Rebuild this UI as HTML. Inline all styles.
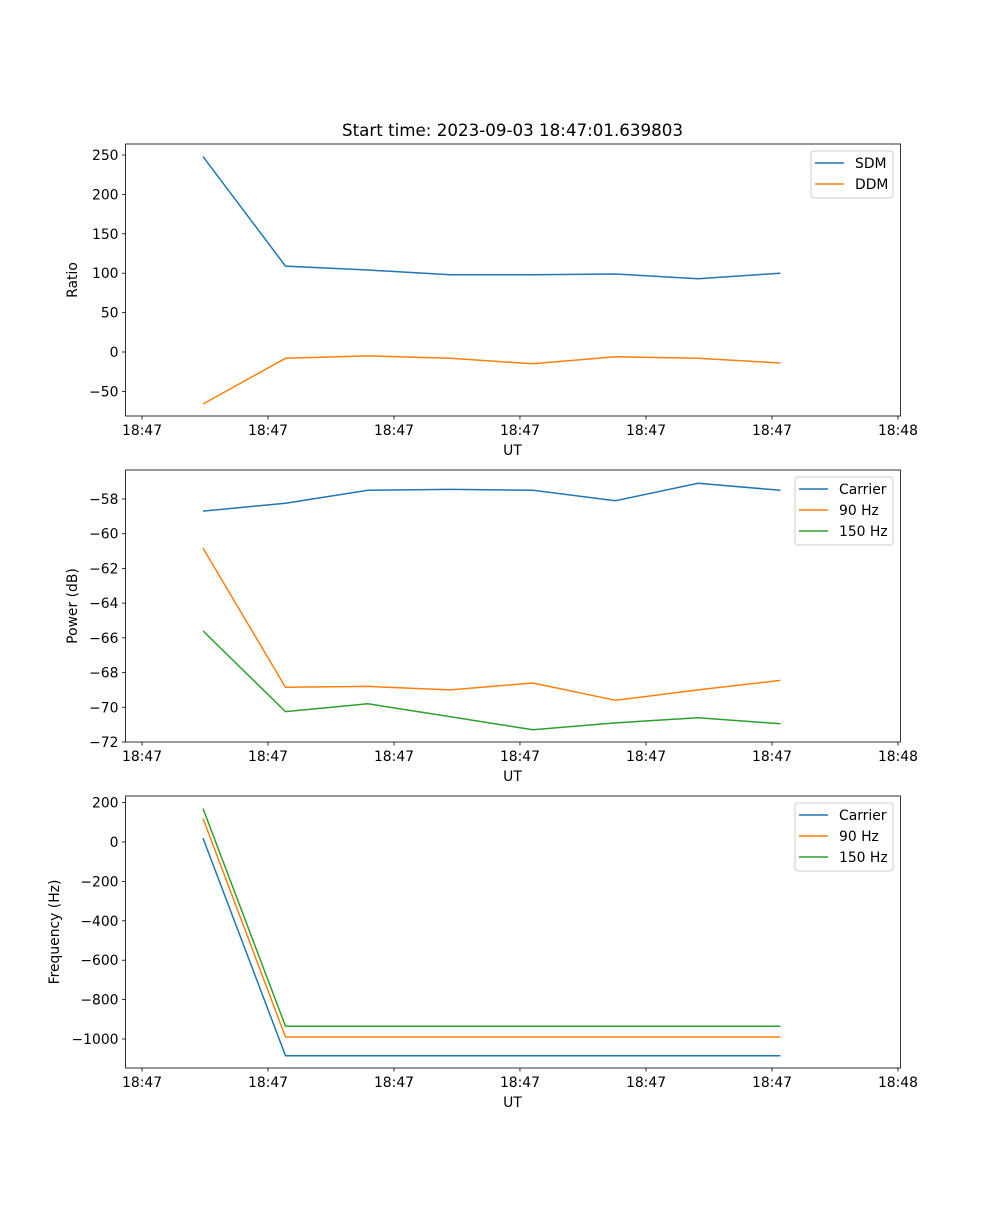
<!DOCTYPE html>
<html><head><meta charset="utf-8"><style>
body{margin:0;background:#fff}
svg text{font-family:"DejaVu Sans","Liberation Sans",sans-serif;font-size:13.9px;fill:#000}
</style></head><body>
<svg id="fig" width="1000" height="1200" xmlns="http://www.w3.org/2000/svg">
<rect width="1000" height="1200" fill="#fff"/>
<text x="512.5" y="136" text-anchor="middle" style="font-size:16.7px">Start time: 2023-09-03 18:47:01.639803</text>
</svg>
<script>
const xTickLabels=["18:47","18:47","18:47","18:47","18:47","18:47","18:48"];
const sampleIndex=[0,1,2,3,4,5,6,7];
const sdm=[248,109,104,98,98,99,93,100];
const ddm=[-66,-8,-5,-8,-15,-6,-8,-14];
const powCarrier=[-58.7,-58.25,-57.5,-57.45,-57.5,-58.1,-57.1,-57.5];
const pow90=[-60.83,-68.85,-68.8,-69.0,-68.6,-69.6,-69.0,-68.45];
const pow150=[-65.6,-70.25,-69.8,-70.55,-71.3,-70.9,-70.6,-70.95];
const freqCarrier=[20,-1085,-1085,-1085,-1085,-1085,-1085,-1085];
const freq90=[120,-990,-990,-990,-990,-990,-990,-990];
const freq150=[170,-935,-935,-935,-935,-935,-935,-935];
const ticks1=[-50,0,50,100,150,200,250];
const ticks2=[-72,-70,-68,-66,-64,-62,-60,-58];
const ticks3=[-1000,-800,-600,-400,-200,0,200];

const NS="http://www.w3.org/2000/svg";
const svg=document.getElementById('fig');
function mk(tag,attrs,parent){const e=document.createElementNS(NS,tag);for(const k in attrs)e.setAttribute(k,attrs[k]);(parent||svg).appendChild(e);return e;}
const L=125.5,R=900.5;
function xs(i){return 203+i*82.5;}
const xTickIdx=[-0.739,0.788,2.315,3.842,5.37,6.897,8.424];
function fmtNum(v){return (v<0?"\u2212":"")+Math.abs(v);}

function panel(top,bottom,yfun,ticks,ylabel,ylabX,series,names,legend,pname){
  const g=mk('g',{});
  
  
  ticks.forEach(t=>{const y=yfun(t);
    mk('line',{x1:L-3.5,x2:L,y1:y,y2:y,stroke:'#000','stroke-width':0.8},g);
    const tx=mk('text',{x:L-7,y:y+5,'text-anchor':'end'},g);tx.textContent=fmtNum(t);
    
    });
  xTickIdx.forEach((ti,k)=>{const x=xs(ti);
    mk('line',{x1:x,x2:x,y1:bottom,y2:bottom+3.5,stroke:'#000','stroke-width':0.8},g);
    const tx=mk('text',{x:x,y:bottom+19,'text-anchor':'middle'},g);tx.textContent=xTickLabels[k];
    
    });
  const xl=mk('text',{x:512.5,y:bottom+39,'text-anchor':'middle'},g);xl.textContent='UT';
  
  
  const cy=(top+bottom)/2;
  const yl=mk('text',{x:ylabX,y:cy,'text-anchor':'middle',transform:`rotate(-90 ${ylabX} ${cy})`},g);yl.textContent=ylabel;
  
  
  series.forEach((s,si)=>{
    const pts=s.vals.map((v,i)=>xs(sampleIndex[i]).toFixed(1)+','+yfun(v).toFixed(1)).join(' ');
    const pl=mk('polyline',{points:pts,fill:'none',stroke:s.color,'stroke-width':1.5},g);
    
    
  });
  mk('rect',{x:L,y:top,width:R-L,height:bottom-top,fill:'none',stroke:'#000','stroke-width':0.8},g);
  const lg=mk('g',{},g);
  
  
  mk('rect',{x:legend.x,y:legend.y,width:legend.w,height:series.length*21+5,rx:3,fill:'#fff',stroke:'#ccc','stroke-width':1,'fill-opacity':0.8},lg);
  series.forEach((s,si)=>{const y=legend.y+12+si*21;
    mk('line',{x1:legend.x+4,x2:legend.x+33,y1:y,y2:y,stroke:s.color,'stroke-width':1.5},lg);
    const t=mk('text',{x:legend.x+44,y:y+5},lg);t.textContent=s.label;
    
    });
}
const C1='#1f77b4',C2='#ff7f0e',C3='#2ca02c';
panel(144,416,v=>352-v*0.788,ticks1,'Ratio',77,
 [{vals:sdm,color:C1,label:'SDM'},{vals:ddm,color:C2,label:'DDM'}],['sdm','ddm'],{x:811,y:151,w:82},'ratio-panel');
panel(470,742,v=>742-(v+72)*17.36,ticks2,'Power (dB)',77,
 [{vals:powCarrier,color:C1,label:'Carrier'},{vals:pow90,color:C2,label:'90 Hz'},{vals:pow150,color:C3,label:'150 Hz'}],['carrier','hz90','hz150'],{x:795,y:477,w:98},'power-panel');
panel(796,1068,v=>842-v*0.197,ticks3,'Frequency (Hz)',59,
 [{vals:freqCarrier,color:C1,label:'Carrier'},{vals:freq90,color:C2,label:'90 Hz'},{vals:freq150,color:C3,label:'150 Hz'}],['carrier','hz90','hz150'],{x:795,y:803,w:98},'frequency-panel');
</script>
</body></html>
